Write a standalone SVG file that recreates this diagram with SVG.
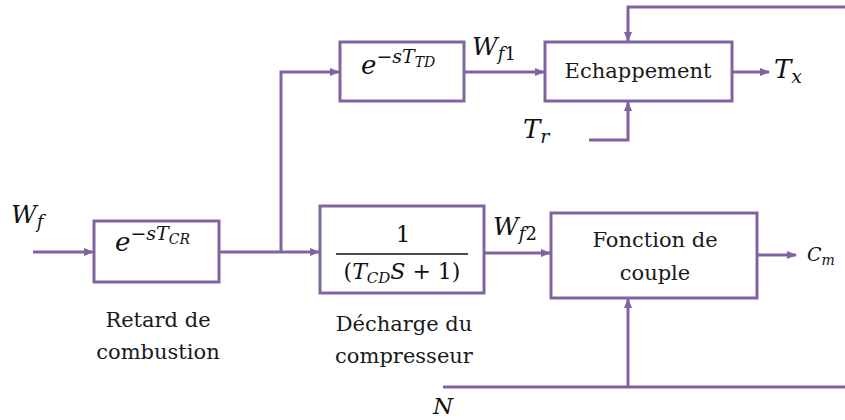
<svg xmlns="http://www.w3.org/2000/svg" width="845" height="420" viewBox="0 0 845 420">
<style>
.box{fill:#fff;stroke:#8064A2;stroke-width:3}
.ln{fill:none;stroke:#8064A2;stroke-width:3}
.t{font-family:'DejaVu Serif',serif;font-size:21px;fill:#1a1a1a;text-anchor:middle}
.m{font-family:'DejaVu Serif',serif;font-style:italic;fill:#111}
.r{font-family:'DejaVu Serif',serif;fill:#111}
</style>
<defs>
<marker id="ar" markerWidth="10" markerHeight="10" refX="9" refY="5" orient="auto" markerUnits="userSpaceOnUse">
<path d="M0,1 L10,5 L0,9 Z" fill="#8064A2"/>
</marker>
</defs>
<rect width="845" height="420" fill="#fff"/>
<g id="connectors">
<line class="ln" x1="33" y1="252" x2="93" y2="252" marker-end="url(#ar)"/>
<line class="ln" x1="219" y1="252" x2="319" y2="252" marker-end="url(#ar)"/>
<polyline class="ln" points="281,252 281,72 339,72" marker-end="url(#ar)"/>
<line class="ln" x1="464" y1="72" x2="544" y2="72" marker-end="url(#ar)"/>
<line class="ln" x1="732" y1="72" x2="769" y2="72" marker-end="url(#ar)"/>
<polyline class="ln" points="845,7 628,7 628,41" marker-end="url(#ar)"/>
<polyline class="ln" points="589,140 628,140 628,102" marker-end="url(#ar)"/>
<line class="ln" x1="484" y1="253" x2="550" y2="253" marker-end="url(#ar)"/>
<line class="ln" x1="757" y1="255" x2="796" y2="255" marker-end="url(#ar)"/>
<line class="ln" x1="443" y1="387" x2="845" y2="387"/>
<line class="ln" x1="628" y1="387" x2="628" y2="299" marker-end="url(#ar)"/>
</g>
<g id="retard">
<rect class="box" x="94" y="221" width="125" height="61"/>
<text x="115" y="251" class="m" font-size="26">e<tspan class="r" font-style="normal" font-size="19" dy="-11">−</tspan><tspan font-size="19">sT</tspan><tspan font-size="14" dy="4">CR</tspan></text>
<text class="t" x="158" y="327">Retard de</text>
<text class="t" x="158" y="359">combustion</text>
</g>
<g id="td">
<rect class="box" x="340" y="42" width="124" height="59"/>
<text x="361" y="74" class="m" font-size="26">e<tspan class="r" font-style="normal" font-size="19" dy="-11">−</tspan><tspan font-size="19">sT</tspan><tspan font-size="14" dy="4">TD</tspan></text>
</g>
<g id="echappement">
<rect class="box" x="545" y="42" width="187" height="59"/>
<text class="t" x="638" y="78">Echappement</text>
</g>
<g id="decharge">
<rect class="box" x="320" y="206" width="164" height="87"/>
<text class="r" x="403" y="242" font-size="23" text-anchor="middle">1</text>
<line x1="336" y1="254" x2="468" y2="254" stroke="#111" stroke-width="1.5"/>
<text class="r" x="402" y="279" font-size="22" text-anchor="middle">(<tspan class="m">T</tspan><tspan class="m" font-size="15" dy="4">CD</tspan><tspan class="m" dy="-4">S</tspan> + 1)</text>
<text class="t" x="404" y="331">Décharge du</text>
<text class="t" x="404" y="363">compresseur</text>
</g>
<g id="couple">
<rect class="box" x="551" y="213" width="206" height="85"/>
<text class="t" x="655" y="247">Fonction de</text>
<text class="t" x="655" y="280">couple</text>
</g>
<g id="labels">
<text class="m" x="11" y="223" font-size="25">W<tspan font-size="18" dy="5">f</tspan></text>
<text class="m" x="472" y="55" font-size="25">W<tspan font-size="18" dy="5">f</tspan><tspan class="r" font-style="normal" font-size="18">1</tspan></text>
<text class="m" x="493" y="235" font-size="25">W<tspan font-size="18" dy="5">f</tspan><tspan class="r" font-style="normal" font-size="18">2</tspan></text>
<text class="m" x="774" y="78" font-size="26">T<tspan font-size="19" dy="5">x</tspan></text>
<text class="m" x="523" y="138" font-size="26">T<tspan font-size="19" dy="5">r</tspan></text>
<text class="m" x="807" y="261" font-size="19">C<tspan font-size="14" dy="4">m</tspan></text>
<text class="m" x="433" y="414" font-size="23">N</text>
</g>
</svg>
